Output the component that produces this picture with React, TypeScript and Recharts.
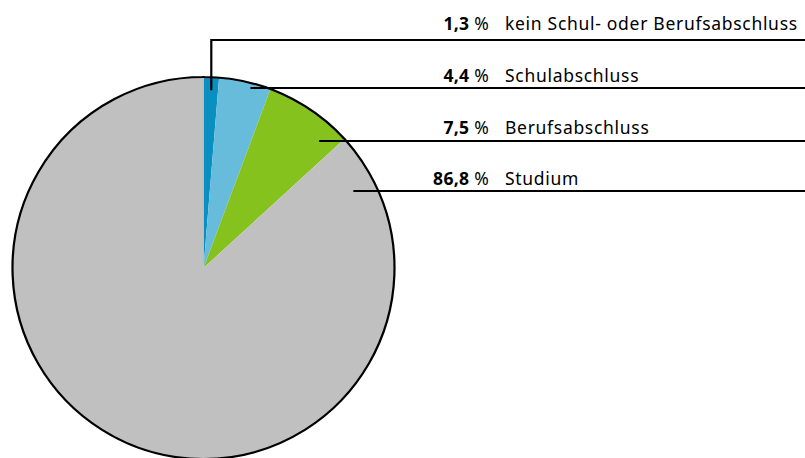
import React from "react";
import { PieChart, Pie, Cell } from "recharts";

// Anteile nach Abschluss (in %)
const categories = [
  "kein Schul- oder Berufsabschluss",
  "Schulabschluss",
  "Berufsabschluss",
  "Studium",
];
const shares = [1.3, 4.4, 7.5, 86.8];
const colors = ["#0a8fc1", "#68bcdb", "#85c21e", "#c0c0c0"];

const data = categories.map((name, i) => ({ name, value: shares[i] }));
const outline = [{ name: "outline", value: 1 }];

const W = 805;
const H = 458;
const CX = 203.5;
const CY = 268;
const R = 191;

// leader / label layout
const rowLineY = [40, 88, 141, 191];
const rowTextY = [30, 82, 134, 185];
const leaderInset = [0, 17, 27, 25];
const NUM_X = 489;
const TEXT_X = 505;
const FONT = "'Noto Sans', 'DejaVu Sans', sans-serif";
const FONT_SIZE = 17.5;
const SPACING = 0.7;

const fmt = (v: number) => v.toFixed(1).replace(".", ",");

const RAD = Math.PI / 180;

function renderLabel(props: any) {
  const { cx, cy, outerRadius, midAngle, index, value, name } = props;
  const ly = rowLineY[index];
  let path: string;
  if (index === 0) {
    const x = cx + outerRadius * Math.cos(-midAngle * RAD);
    const y0 = cy - (outerRadius - 13) * Math.sin(midAngle * RAD);
    path = `M${x},${y0} L${x},${ly} L${W},${ly}`;
  } else {
    const dy = cy - ly;
    const edge = cx + Math.sqrt(outerRadius * outerRadius - dy * dy);
    path = `M${edge - leaderInset[index]},${ly} L${W},${ly}`;
  }
  return (
    <g key={`lbl-${index}`}>
      <path d={path} stroke="#000" strokeWidth={2.2} fill="none" />
      <text
        x={NUM_X}
        y={rowTextY[index]}
        textAnchor="end"
        fontFamily={FONT}
        fontSize={FONT_SIZE}
        letterSpacing={0.3}
        fill="#000"
      >
        <tspan fontWeight="bold">{fmt(value)}</tspan>
        <tspan> %</tspan>
      </text>
      <text
        x={TEXT_X}
        y={rowTextY[index]}
        textAnchor="start"
        fontFamily={FONT}
        fontSize={FONT_SIZE}
        letterSpacing={SPACING}
        fill="#000"
      >
        {name}
      </text>
    </g>
  );
}

export default function App() {
  return (
    <div style={{ position: "absolute", left: 0, top: 0, width: W, height: H, background: "#fff" }}>
      <PieChart width={W} height={H} margin={{ top: 0, right: 0, bottom: 0, left: 0 }}>
        <Pie
          data={data}
          dataKey="value"
          nameKey="name"
          cx={CX}
          cy={CY}
          outerRadius={R}
          startAngle={90}
          endAngle={-270}
          stroke="none"
          labelLine={false}
          label={renderLabel}
          isAnimationActive={false}
        >
          {data.map((d, i) => (
            <Cell key={d.name} fill={colors[i]} />
          ))}
        </Pie>
        <Pie
          data={outline}
          dataKey="value"
          cx={CX}
          cy={CY}
          innerRadius={R - 0.01}
          outerRadius={R}
          startAngle={90}
          endAngle={-270}
          fill="none"
          stroke="#000"
          strokeWidth={2.2}
          isAnimationActive={false}
        />
      </PieChart>
    </div>
  );
}
